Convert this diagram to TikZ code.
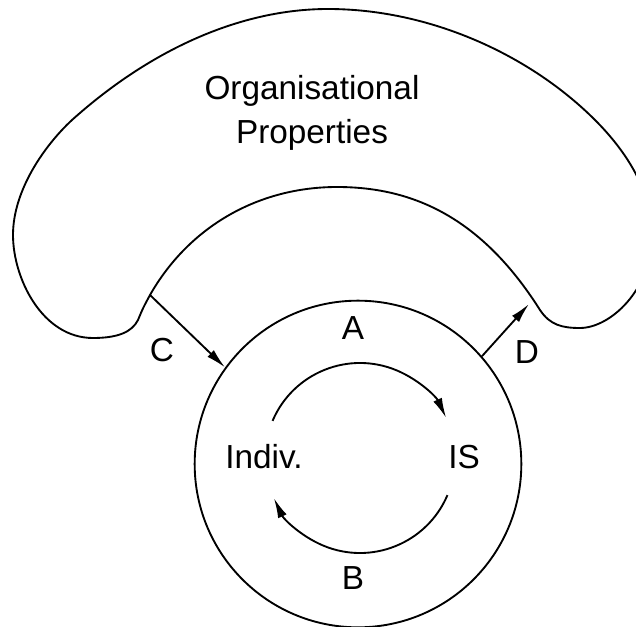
\documentclass[tikz,border=0pt]{standalone}
\usepackage{fontspec}
\setmainfont{Liberation Sans}
\usetikzlibrary{arrows.meta}

\tikzset{every picture/.style={line width=1.4pt}}
\tikzset{lbl/.style={font=\fontsize{25}{33}\selectfont, inner sep=0pt, align=center}}
\tikzset{arr/.style={-{Latex[length=15pt,width=7pt]}}}

\begin{document}
\begin{tikzpicture}[x=0.75pt,y=0.75pt,yscale=-1,xscale=1]
%set diagram left start at 0, and has height of 627
\useasboundingbox (0,0) rectangle (636,627);
\clip (0,0) rectangle (636,627);

%Shape: Kidney [id:orgshape]
\coordinate (cjoin) at (150,295);
\coordinate (dend) at (529,304);
\draw (cjoin) .. controls (190,225) and (260,187) .. (337,187)
  .. controls (410,187) and (480,215) .. (540,310)
  .. controls (550,325) and (562,328) .. (580,328)
  .. controls (610,328) and (652,290) .. (652,235)
  .. controls (652,190) and (625,150) .. (595,120)
  .. controls (530,55) and (430,9) .. (328,9)
  .. controls (240,9) and (150,50) .. (72,120)
  .. controls (45,145) and (13,190) .. (13,235)
  .. controls (13,278) and (42,338) .. (93,338)
  .. controls (118,338) and (132,332) .. (138,320)
  .. controls (143,308) .. (cjoin) -- cycle ;

%Shape: Circle [id:ring]
\node [draw, circle, minimum size=245pt, inner sep=0pt] (ring) at (358,464) {};
\coordinate (mid) at (360,458);

%Curve Lines [id:arcA]
\draw [arr] ([shift={(-157:95)}]mid) arc (-157:-25:95) ;
%Curve Lines [id:arcB]
\draw [arr] ([shift={(23:95)}]mid) arc (23:155:95) ;

%Straight Lines [id:arrC]
\draw [arr] (cjoin) -- (ring.144) ;
%Straight Lines [id:arrD]
\draw [arr] (ring.41) -- (dend) ;

% Text Node
\node [lbl] (orgprops) at (312,113) {Organisational\\Properties};
\node [lbl] (labA) at (353,328) {A};
\node [lbl] (labB) at (353,578) {B};
\node [lbl] (labC) at (162,350) {C};
\node [lbl] (labD) at (527,352) {D};
\node [lbl] (indiv) at (264,457) {Indiv.};
\node [lbl] (infsys) at (464,457) {IS};
\end{tikzpicture}
\end{document}
